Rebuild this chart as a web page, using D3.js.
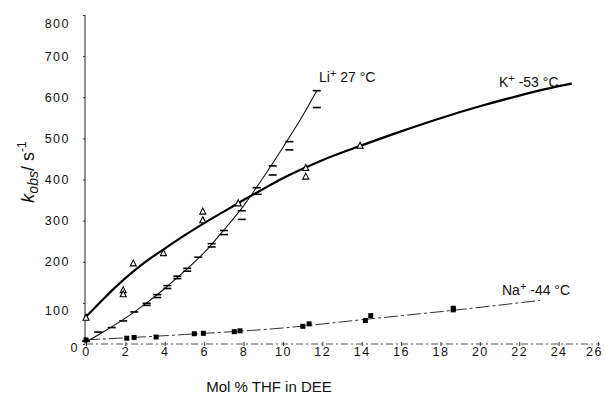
<!DOCTYPE html>
<html><head><meta charset="utf-8">
<script src="https://cdn.jsdelivr.net/npm/d3@7"></script>
<style>
body{margin:0;background:#fff;}
text{font-family:"Liberation Sans",Arial,sans-serif;fill:#111;}
</style></head>
<body><svg id="c" width="605" height="397"></svg>
<script>
// ---- data ----
const xTicks = [0,2,4,6,8,10,12,14,16,18,20,22,24,26];
const yTicks = [0,100,200,300,400,500,600,700,800];

// Li+ 27 °C (horizontal-dash markers)
const liX = [0,0.62,1.31,1.89,2.45,3.08,3.08,3.62,3.62,4.13,4.13,4.64,4.64,5.14,5.14,5.70,6.38,6.38,7.01,7.01,7.91,7.91,8.67,8.72,9.48,9.48,10.33,10.33,11.72,11.72];
const liY = [7,29,40,56,78,94,99,113,120,135,142,159,165,177,184,211,236,244,266,276,303,324,380,364,433,411,492,472,616,575];
const liFitX = [0,1,2,3,4,5,6,7,8,9,10,11,11.72];
const liFitY = [5,33,63,97,135,177,222,277,336,405,478,555,616];

// K+ -53 °C (open triangles)
const kX = [0,1.89,1.89,2.40,3.93,5.93,5.93,7.73,11.16,11.16,13.92];
const kY = [64,131,121,196,221,322,301,342,428,407,482];
const kFitX = [0,1,2,3,4,5,6,7,8,9,10,11,12,14,16,18,20,22,24,24.67];
const kFitY = [66,115,160,199,232,264,294,322,350,377,403,426,447,483,517,549,578,604,627,633];

// Na+ -44 °C (filled squares)
const naX = [0,2.07,2.44,3.56,5.50,5.96,7.53,7.82,11.01,11.33,14.19,14.46,18.65,18.65];
const naY = [10,14,16,17,25,26,30,32,43,49,57,69,83,87];
const naFitX = [0,5,10,14,18.65,23.06];
const naFitY = [10,23,39,59,82,106];

// ---- drawing ----
const svg = d3.select("#c");
const x = d3.scaleLinear().domain([0,26]).range([86,598]);
const y = d3.scaleLinear().domain([0,800]).range([344,15]);

// x axis (dashed baseline)
const gx = svg.append("g").attr("transform","translate(0,344)")
  .call(d3.axisBottom(x).tickValues(xTicks).tickSize(2).tickFormat(d3.format("d")));
gx.select(".domain").remove();
gx.append("line").attr("x1",86).attr("x2",600).attr("y1",0).attr("y2",0)
  .attr("stroke","#555").attr("stroke-width",1).attr("stroke-dasharray","7,3,2,3");
gx.selectAll(".tick line").attr("y1",-2).attr("y2",2).attr("stroke","#333");
gx.selectAll(".tick text").attr("y",12).attr("dy",null)
  .style("font-size","12.5px").style("letter-spacing","1.5px").attr("fill","#111")
  .attr("dx", d => d===26 ? "-4" : null);

// y axis
const gy = svg.append("g").attr("transform","translate(85,0)")
  .call(d3.axisLeft(y).tickValues(yTicks).tickSize(2).tickPadding(13).tickFormat(d3.format("d")));
gy.select(".domain").attr("stroke","#222").attr("d","M0,15V344");
gy.selectAll(".tick line").attr("stroke","#333");
gy.selectAll(".tick text").style("font-size","12.5px").style("letter-spacing","1.5px").attr("fill","#111")
  .attr("dy", d => d===800 ? "1.0em" : d===100 ? "0.95em" : d===0 ? "0.62em" : "0.32em")
  .attr("x", d => d===0 ? -6 : -15);

// axis titles
svg.append("text").attr("x",269).attr("y",392).attr("text-anchor","middle")
  .style("font-size","15px").text("Mol % THF in DEE");
const yt = svg.append("text").attr("transform","translate(34,172) rotate(-90)")
  .attr("text-anchor","middle").style("font-size","18px");
yt.append("tspan").style("font-style","italic").text("k");
yt.append("tspan").style("font-style","italic").style("font-size","14px").attr("dy","4").text("obs");
yt.append("tspan").attr("dy","-4").text("/ s");
yt.append("tspan").style("font-size","12px").attr("dy","-8").text("-1");

// fit lines
const line = d3.line().x(d=>x(d[0])).y(d=>y(d[1])).curve(d3.curveMonotoneX);
svg.append("path").datum(d3.zip(naFitX,naFitY)).attr("d",line)
  .attr("fill","none").attr("stroke","#333").attr("stroke-width",1).attr("stroke-dasharray","14,3,3,3");
svg.append("path").datum(d3.zip(liFitX,liFitY)).attr("d",line)
  .attr("fill","none").attr("stroke","#111").attr("stroke-width",1.1);
svg.append("path").datum(d3.zip(kFitX,kFitY)).attr("d",line)
  .attr("fill","none").attr("stroke","#000").attr("stroke-width",2.2);

// markers
svg.append("g").selectAll("line").data(d3.zip(liX,liY)).join("line")
  .attr("x1",d=>x(d[0])-4).attr("x2",d=>x(d[0])+4)
  .attr("y1",d=>y(d[1])).attr("y2",d=>y(d[1]))
  .attr("stroke","#000").attr("stroke-width",1.6);
svg.append("g").selectAll("path").data(d3.zip(kX,kY)).join("path")
  .attr("transform",d=>`translate(${x(d[0])},${y(d[1])})`)
  .attr("d","M0,-3.5L3,2.5L-3,2.5Z")
  .attr("fill","#fff").attr("stroke","#000").attr("stroke-width",1.1);
svg.append("g").selectAll("rect").data(d3.zip(naX,naY)).join("rect")
  .attr("x",d=>x(d[0])-2.5).attr("y",d=>y(d[1])-2.5).attr("width",5).attr("height",5)
  .attr("fill","#000");

// series labels
function lab(px,py,main,rest){
  const t = svg.append("text").attr("x",px).attr("y",py).style("font-size","14px");
  t.append("tspan").text(main);
  t.append("tspan").attr("dy","-5").style("font-size","11px").text("+");
  t.append("tspan").attr("dy","5").text(rest);
}
lab(319,82,"Li"," 27 °C");
lab(499,87,"K"," -53 °C");
lab(502,295,"Na"," -44 °C");
</script></body></html>
